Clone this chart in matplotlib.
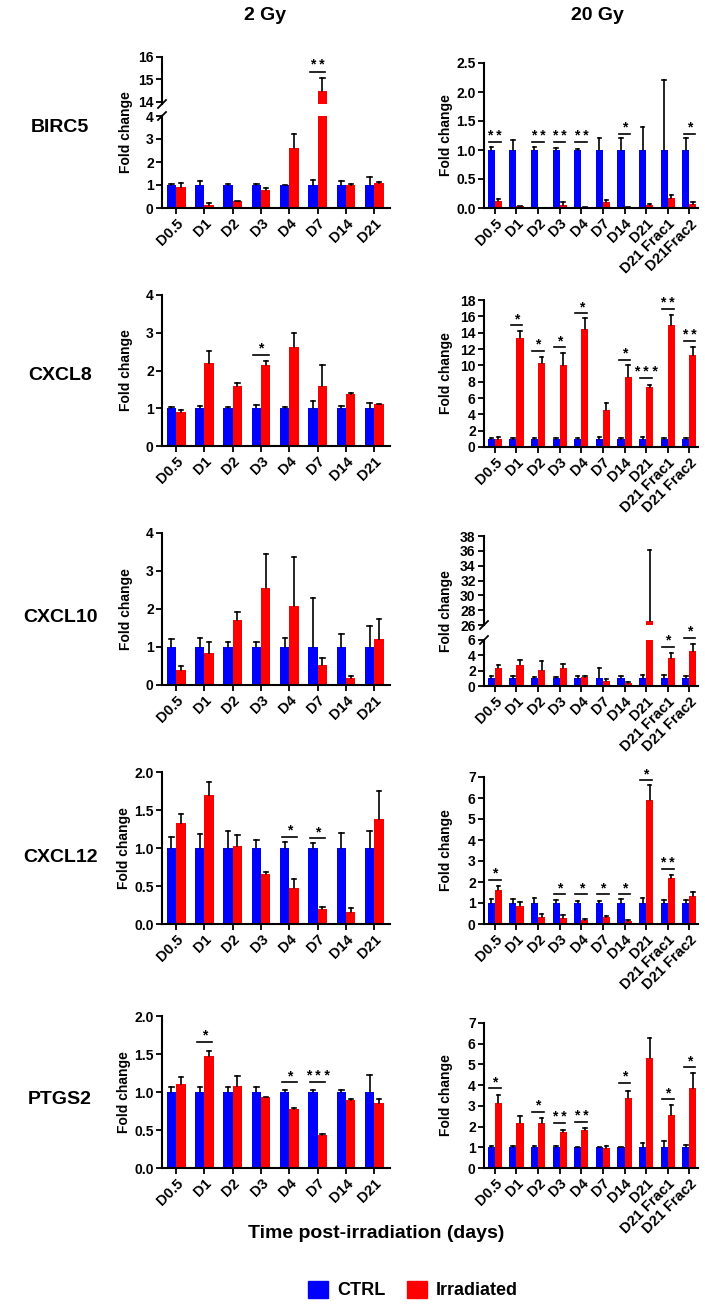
import numpy as np
import matplotlib.pyplot as plt
from matplotlib.patches import Patch

plt.rcParams['font.family'] = ['Liberation Sans', 'DejaVu Sans']
plt.rcParams['font.weight'] = 'bold'

W, H = 705, 1310
BLUE = '#0000ff'
RED = '#ff0000'

# x categories
days_2gy = ['D0.5', 'D1', 'D2', 'D3', 'D4', 'D7', 'D14', 'D21']
days_20gy = ['D0.5', 'D1', 'D2', 'D3', 'D4', 'D7', 'D14', 'D21', 'D21 Frac1', 'D21 Frac2']
days_20gy_birc5 = ['D0.5', 'D1', 'D2', 'D3', 'D4', 'D7', 'D14', 'D21', 'D21 Frac1', 'D21Frac2']

# BIRC5
birc5_2_ctrl = [1.0, 1.0, 1.0, 1.0, 1.0, 1.0, 1.0, 1.0]
birc5_2_ctrl_err = [0.06, 0.17, 0.05, 0.03, 0.02, 0.2, 0.17, 0.35]
birc5_2_irr = [0.92, 0.15, 0.3, 0.8, 2.62, 14.5, 1.0, 1.08]
birc5_2_irr_err = [0.15, 0.05, 0.02, 0.08, 0.6, 0.55, 0.03, 0.07]
birc5_2_sig = [(5, 15.35, '* *')]

birc5_20_ctrl = [1.0, 1.0, 1.0, 1.0, 1.0, 1.0, 1.0, 1.0, 1.0, 1.0]
birc5_20_ctrl_err = [0.05, 0.18, 0.05, 0.03, 0.02, 0.2, 0.2, 0.4, 1.2, 0.2]
birc5_20_irr = [0.12, 0.03, 0.0, 0.05, 0.01, 0.1, 0.01, 0.05, 0.17, 0.07]
birc5_20_irr_err = [0.03, 0.01, 0.0, 0.06, 0.01, 0.03, 0.01, 0.02, 0.05, 0.04]
birc5_20_sig = [(0, 1.14, '* *'), (2, 1.14, '* *'), (3, 1.14, '* *'), (4, 1.14, '* *'),
                (6, 1.28, '*'), (9, 1.28, '*')]

# CXCL8
cxcl8_2_ctrl = [1.0, 1.0, 1.0, 1.0, 1.0, 1.0, 1.0, 1.0]
cxcl8_2_ctrl_err = [0.03, 0.06, 0.04, 0.09, 0.03, 0.2, 0.07, 0.15]
cxcl8_2_irr = [0.9, 2.2, 1.6, 2.14, 2.62, 1.6, 1.38, 1.1]
cxcl8_2_irr_err = [0.05, 0.32, 0.07, 0.12, 0.38, 0.55, 0.02, 0.02]
cxcl8_2_sig = [(3, 2.41, '*')]

cxcl8_20_ctrl = [1.0, 1.0, 1.0, 1.0, 1.0, 1.0, 1.0, 1.0, 1.0, 1.0]
cxcl8_20_ctrl_err = [0.1, 0.05, 0.05, 0.15, 0.05, 0.2, 0.15, 0.2, 0.15, 0.05]
cxcl8_20_irr = [1.0, 13.3, 10.3, 10.1, 14.4, 4.5, 8.6, 7.4, 15.0, 11.3]
cxcl8_20_irr_err = [0.2, 0.9, 0.7, 1.4, 1.4, 0.9, 1.4, 0.2, 1.2, 1.0]
cxcl8_20_sig = [(1, 14.9, '*'), (2, 11.75, '*'), (3, 12.2, '*'), (4, 16.4, '*'),
                (6, 10.65, '*'), (7, 8.5, '* * *'), (8, 16.9, '* *'), (9, 13.0, '* *')]

# CXCL10
cxcl10_2_ctrl = [1.0, 1.0, 1.0, 1.0, 1.0, 1.0, 1.0, 1.0]
cxcl10_2_ctrl_err = [0.2, 0.25, 0.12, 0.12, 0.25, 1.28, 0.33, 0.55]
cxcl10_2_irr = [0.4, 0.85, 1.7, 2.55, 2.08, 0.52, 0.18, 1.2]
cxcl10_2_irr_err = [0.1, 0.28, 0.22, 0.9, 1.28, 0.2, 0.06, 0.55]
cxcl10_2_sig = []

cxcl10_20_ctrl = [1.0, 1.0, 1.0, 1.0, 1.0, 1.0, 1.0, 1.0, 1.0, 1.0]
cxcl10_20_ctrl_err = [0.3, 0.3, 0.2, 0.2, 0.3, 1.3, 0.3, 0.5, 0.4, 0.3]
cxcl10_20_irr = [2.3, 2.7, 2.1, 2.4, 1.15, 0.6, 0.4, 26.6, 3.65, 4.5]
cxcl10_20_irr_err = [0.5, 0.7, 1.1, 0.5, 0.2, 0.25, 0.15, 9.5, 0.6, 1.0]
cxcl10_20_sig = [(8, 5.1, '*'), (9, 6.3, '*')]

# CXCL12
cxcl12_2_ctrl = [1.0, 1.0, 1.0, 1.0, 1.0, 1.0, 1.0, 1.0]
cxcl12_2_ctrl_err = [0.15, 0.18, 0.23, 0.11, 0.08, 0.06, 0.2, 0.23]
cxcl12_2_irr = [1.33, 1.7, 1.02, 0.66, 0.48, 0.2, 0.16, 1.38]
cxcl12_2_irr_err = [0.12, 0.17, 0.15, 0.03, 0.11, 0.02, 0.05, 0.37]
cxcl12_2_sig = [(4, 1.15, '*'), (5, 1.13, '*')]

cxcl12_20_ctrl = [1.0, 1.0, 1.0, 1.0, 1.0, 1.0, 1.0, 1.0, 1.0, 1.0]
cxcl12_20_ctrl_err = [0.2, 0.2, 0.25, 0.15, 0.08, 0.08, 0.2, 0.25, 0.12, 0.15]
cxcl12_20_irr = [1.63, 0.88, 0.35, 0.3, 0.2, 0.32, 0.12, 5.9, 2.2, 1.33]
cxcl12_20_irr_err = [0.17, 0.15, 0.12, 0.12, 0.05, 0.05, 0.05, 0.7, 0.15, 0.2]
cxcl12_20_sig = [(0, 2.1, '*'), (3, 1.41, '*'), (4, 1.41, '*'), (5, 1.41, '*'),
                 (6, 1.41, '*'), (7, 6.85, '*'), (8, 2.63, '* *')]

# PTGS2
ptgs2_2_ctrl = [1.0, 1.0, 1.0, 1.0, 1.0, 1.0, 1.0, 1.0]
ptgs2_2_ctrl_err = [0.06, 0.07, 0.06, 0.07, 0.03, 0.02, 0.02, 0.22]
ptgs2_2_irr = [1.11, 1.47, 1.08, 0.93, 0.77, 0.43, 0.9, 0.86]
ptgs2_2_irr_err = [0.09, 0.07, 0.13, 0.01, 0.02, 0.02, 0.01, 0.05]
ptgs2_2_sig = [(1, 1.66, '*'), (4, 1.13, '*'), (5, 1.13, '* * *')]

ptgs2_20_ctrl = [1.0, 1.0, 1.0, 1.0, 1.0, 1.0, 1.0, 1.0, 1.0, 1.0]
ptgs2_20_ctrl_err = [0.05, 0.05, 0.05, 0.05, 0.02, 0.02, 0.02, 0.22, 0.32, 0.1]
ptgs2_20_irr = [3.12, 2.15, 2.18, 1.75, 1.85, 0.97, 3.38, 5.3, 2.58, 3.87]
ptgs2_20_irr_err = [0.42, 0.35, 0.25, 0.1, 0.07, 0.08, 0.32, 1.0, 0.45, 0.7]
ptgs2_20_sig = [(0, 3.85, '*'), (2, 2.72, '*'), (3, 2.16, '* *'), (4, 2.24, '* *'),
                (6, 4.12, '*'), (8, 3.32, '*'), (9, 4.86, '*')]

genes = ['BIRC5', 'CXCL8', 'CXCL10', 'CXCL12', 'PTGS2']

BAR_W = 0.33

fig = plt.figure(figsize=(W / 100, H / 100), dpi=100)


def add_ax(x0, x1, ytop, ybot):
    # axes placed in pixel coordinates of the reference
    return fig.add_axes([x0 / W, 1 - ybot / H, (x1 - x0) / W, (ybot - ytop) / H])


def style(ax, ylim, yticks, fmt):
    for s in ['top', 'right']:
        ax.spines[s].set_visible(False)
    for s in ['left', 'bottom']:
        ax.spines[s].set_linewidth(1.5)
    ax.set_ylim(*ylim)
    ax.set_yticks(yticks)
    ax.set_yticklabels([fmt % t for t in yticks], fontsize=10, fontweight='bold')
    ax.tick_params(axis='both', direction='out', length=4, width=1.3, pad=2)


def add_sig(ax, sig):
    for i, y, txt in sig:
        ax.plot([i - 0.27, i + 0.27], [y, y], color='black', lw=1.2, clip_on=False)
        ax.annotate(txt, (i, y), xytext=(0, 1.5), textcoords='offset points',
                    ha='center', va='baseline', fontsize=10, fontweight='bold',
                    annotation_clip=False)


def draw_bars(ax, cats, ctrl, ctrl_err, irr, irr_err, sig, xmax, clip=False):
    x = np.arange(len(cats))
    ax.bar(x - BAR_W / 2, ctrl, BAR_W, color=BLUE, zorder=2)
    ax.bar(x + BAR_W / 2, irr, BAR_W, color=RED, zorder=2)
    for xs, ys, es in ((x - BAR_W / 2, ctrl, ctrl_err), (x + BAR_W / 2, irr, irr_err)):
        for xi, yi, ei in zip(xs, ys, es):
            if ei <= 0:
                continue
            ax.plot([xi, xi], [yi, yi + ei], color='black', lw=1.2, zorder=3, clip_on=clip)
            ax.plot([xi - 0.08, xi + 0.08], [yi + ei, yi + ei], color='black', lw=1.2,
                    zorder=3, clip_on=clip)
    add_sig(ax, sig)
    ax.set_xlim(-0.5, xmax)
    ax.set_xticks(x)


def xlabels(ax, cats):
    ax.set_xticklabels(cats, rotation=45, ha='right', rotation_mode='anchor',
                       fontsize=10.5, fontweight='bold')


def break_marks(ax_top, ax_bot, sz=4):
    for ax, yy in ((ax_top, 0), (ax_bot, 1)):
        bb = ax.get_position()
        dx = sz / (bb.width * W)
        dy = sz / (bb.height * H)
        ax.plot([-dx, dx], [yy - dy, yy + dy], transform=ax.transAxes,
                color='black', lw=1.3, clip_on=False)


def fold_label(xpx, ytop, ybot):
    fig.text(xpx / W, 1 - (ytop + ybot) / 2 / H, 'Fold change', rotation=90,
             ha='center', va='center', fontsize=10, fontweight='bold')


LX0, LX1, LXMAX = 162, 390, 7.55
RX0, RX1, RXMAX = 484, 698, 9.4
LFX, RFX = 126, 446

# ---------- BIRC5 ----------
ax_u = add_ax(LX0, LX1, 57, 104)
ax_l = add_ax(LX0, LX1, 116, 208)
for ax in (ax_u, ax_l):
    draw_bars(ax, days_2gy, birc5_2_ctrl, birc5_2_ctrl_err, birc5_2_irr, birc5_2_irr_err,
              [], LXMAX, clip=True)
add_sig(ax_u, birc5_2_sig)
style(ax_u, (13.9, 16), [14, 15, 16], '%d')
ax_u.spines['bottom'].set_visible(False)
ax_u.tick_params(axis='x', bottom=False, labelbottom=False)
style(ax_l, (0, 4), [0, 1, 2, 3, 4], '%d')
xlabels(ax_l, days_2gy)
break_marks(ax_u, ax_l)
fold_label(LFX, 57, 208)

ax = add_ax(RX0, RX1, 63, 208)
draw_bars(ax, days_20gy_birc5, birc5_20_ctrl, birc5_20_ctrl_err, birc5_20_irr,
          birc5_20_irr_err, birc5_20_sig, RXMAX)
style(ax, (0, 2.5), [0, 0.5, 1.0, 1.5, 2.0, 2.5], '%.1f')
xlabels(ax, days_20gy_birc5)
fold_label(RFX, 63, 208)

# ---------- CXCL8 ----------
ax = add_ax(LX0, LX1, 295, 446)
draw_bars(ax, days_2gy, cxcl8_2_ctrl, cxcl8_2_ctrl_err, cxcl8_2_irr, cxcl8_2_irr_err,
          cxcl8_2_sig, LXMAX)
style(ax, (0, 4), [0, 1, 2, 3, 4], '%d')
xlabels(ax, days_2gy)
fold_label(LFX, 295, 446)

ax = add_ax(RX0, RX1, 300, 447)
draw_bars(ax, days_20gy, cxcl8_20_ctrl, cxcl8_20_ctrl_err, cxcl8_20_irr, cxcl8_20_irr_err,
          cxcl8_20_sig, RXMAX)
style(ax, (0, 18), list(range(0, 19, 2)), '%d')
xlabels(ax, days_20gy)
fold_label(RFX, 300, 447)

# ---------- CXCL10 ----------
ax = add_ax(LX0, LX1, 533, 685)
draw_bars(ax, days_2gy, cxcl10_2_ctrl, cxcl10_2_ctrl_err, cxcl10_2_irr, cxcl10_2_irr_err,
          cxcl10_2_sig, LXMAX)
style(ax, (0, 4), [0, 1, 2, 3, 4], '%d')
xlabels(ax, days_2gy)
fold_label(LFX, 533, 685)

ax_u = add_ax(RX0, RX1, 536, 625)
ax_l = add_ax(RX0, RX1, 640, 686)
draw_bars(ax_u, days_20gy, cxcl10_20_ctrl, cxcl10_20_ctrl_err, cxcl10_20_irr,
          cxcl10_20_irr_err, [], RXMAX, clip=True)
draw_bars(ax_l, days_20gy, cxcl10_20_ctrl, cxcl10_20_ctrl_err, cxcl10_20_irr,
          cxcl10_20_irr_err, cxcl10_20_sig, RXMAX, clip=True)
style(ax_u, (26, 38), list(range(26, 39, 2)), '%d')
ax_u.spines['bottom'].set_visible(False)
ax_u.tick_params(axis='x', bottom=False, labelbottom=False)
style(ax_l, (0, 6), [0, 2, 4, 6], '%d')
xlabels(ax_l, days_20gy)
break_marks(ax_u, ax_l)
fold_label(RFX, 536, 686)

# ---------- CXCL12 ----------
ax = add_ax(LX0, LX1, 772, 924)
draw_bars(ax, days_2gy, cxcl12_2_ctrl, cxcl12_2_ctrl_err, cxcl12_2_irr, cxcl12_2_irr_err,
          cxcl12_2_sig, LXMAX)
style(ax, (0, 2), [0, 0.5, 1.0, 1.5, 2.0], '%.1f')
xlabels(ax, days_2gy)
fold_label(LFX - 2, 772, 924)

ax = add_ax(RX0, RX1, 777, 924)
draw_bars(ax, days_20gy, cxcl12_20_ctrl, cxcl12_20_ctrl_err, cxcl12_20_irr,
          cxcl12_20_irr_err, cxcl12_20_sig, RXMAX)
style(ax, (0, 7), list(range(0, 8)), '%d')
xlabels(ax, days_20gy)
fold_label(RFX, 777, 924)

# ---------- PTGS2 ----------
ax = add_ax(LX0, LX1, 1016, 1168)
draw_bars(ax, days_2gy, ptgs2_2_ctrl, ptgs2_2_ctrl_err, ptgs2_2_irr, ptgs2_2_irr_err,
          ptgs2_2_sig, LXMAX)
style(ax, (0, 2), [0, 0.5, 1.0, 1.5, 2.0], '%.1f')
xlabels(ax, days_2gy)
fold_label(LFX - 2, 1016, 1168)

ax = add_ax(RX0, RX1, 1023, 1168)
draw_bars(ax, days_20gy, ptgs2_20_ctrl, ptgs2_20_ctrl_err, ptgs2_20_irr, ptgs2_20_irr_err,
          ptgs2_20_sig, RXMAX)
style(ax, (0, 7), list(range(0, 8)), '%d')
xlabels(ax, days_20gy)
fold_label(RFX, 1023, 1168)

# titles, row labels, common x label, legend
fig.text(265 / W, 1 - 16 / H, '2 Gy', ha='center', va='center', fontsize=14, fontweight='bold')
fig.text(597 / W, 1 - 16 / H, '20 Gy', ha='center', va='center', fontsize=14, fontweight='bold')
for g, yc in zip(genes, [128, 375, 617, 858, 1100]):
    fig.text(60 / W, 1 - yc / H, g, ha='center', va='center', fontsize=14, fontweight='bold')

fig.text(376 / W, 1 - 1233 / H, 'Time post-irradiation (days)', ha='center', va='center',
         fontsize=14, fontweight='bold')

handles = [Patch(color=BLUE, label='CTRL'), Patch(color=RED, label='Irradiated')]
fig.legend(handles=handles, loc='center', bbox_to_anchor=(413 / W, 1 - 1290 / H), ncol=2,
           frameon=False, prop={'size': 13, 'weight': 'bold'}, handlelength=1.1,
           handleheight=1.1, columnspacing=1.2, handletextpad=0.5)

fig.savefig('out.png', dpi=100)
